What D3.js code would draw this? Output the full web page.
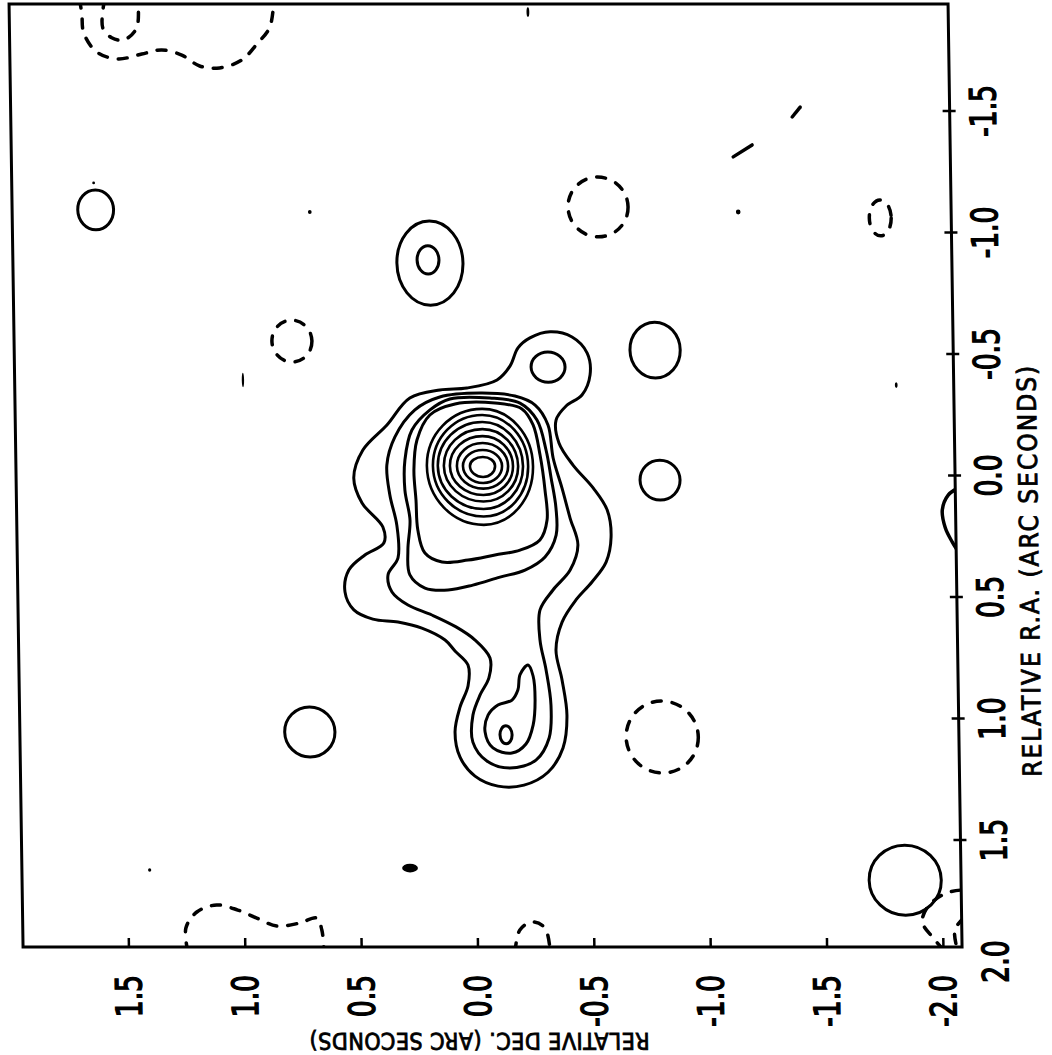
<!DOCTYPE html>
<html><head><meta charset="utf-8">
<script src="https://cdn.jsdelivr.net/npm/d3@7"></script>
<style>body{margin:0;background:#fff}svg{display:block}</style>
</head><body>
<svg id="c" width="1052" height="1055"></svg>
<script>
// ---- axis data ----
const raTicks = [-1.5,-1.0,-0.5,0.0,0.5,1.0,1.5,2.0];
const raTickLabels = ["-1.5","-1.0","-0.5","0.0","0.5","1.0","1.5","2.0"];
const decTicks = [1.5,1.0,0.5,0.0,-0.5,-1.0,-1.5,-2.0];
const decTickLabels = ["1.5","1.0","0.5","0.0","-0.5","-1.0","-1.5","-2.0"];
const raTitle = "RELATIVE R.A.  (ARC SECONDS)";
const decTitle = "RELATIVE DEC.  (ARC SECONDS)";
const decRange = [1.955,-2.08];
const raRange = [-1.94,1.94];

// ---- contour data: [dec, ra] in arcsec ----
const coreLevel1 = [[-0.262,-0.566],[-0.349,-0.591],[-0.443,-0.570],[-0.507,-0.504],[-0.518,-0.414],[-0.482,-0.331],[-0.413,-0.286],[-0.369,-0.228],[-0.380,-0.134],[-0.439,-0.043],[-0.524,0.051],[-0.583,0.142],[-0.598,0.253],[-0.575,0.356],[-0.513,0.438],[-0.443,0.512],[-0.382,0.603],[-0.354,0.718],[-0.378,0.840],[-0.397,0.986],[-0.378,1.121],[-0.312,1.221],[-0.208,1.274],[-0.096,1.278],[0.002,1.237],[0.065,1.159],[0.085,1.055],[0.062,0.953],[0.026,0.865],[0.025,0.780],[0.080,0.722],[0.122,0.677],[0.221,0.628],[0.323,0.603],[0.431,0.591],[0.512,0.553],[0.549,0.479],[0.531,0.389],[0.461,0.327],[0.379,0.278],[0.382,0.212],[0.470,0.113],[0.504,0.010],[0.463,-0.105],[0.358,-0.208],[0.258,-0.319],[0.128,-0.352],[0.012,-0.360],[-0.118,-0.393],[-0.175,-0.451],[-0.210,-0.525]];
const coreLevel2 = [[0.129,-0.323],[-0.044,-0.339],[-0.194,-0.327],[-0.280,-0.290],[-0.334,-0.208],[-0.354,-0.072],[-0.390,0.051],[-0.423,0.175],[-0.455,0.286],[-0.420,0.389],[-0.345,0.471],[-0.288,0.553],[-0.286,0.677],[-0.310,0.799],[-0.329,0.944],[-0.319,1.080],[-0.261,1.171],[-0.149,1.204],[-0.050,1.175],[0.009,1.097],[0.007,0.986],[-0.025,0.903],[-0.064,0.833],[-0.070,0.751],[-0.007,0.677],[0.074,0.623],[0.177,0.574],[0.279,0.533],[0.347,0.479],[0.363,0.409],[0.319,0.339],[0.322,0.204],[0.350,0.080],[0.361,-0.043],[0.325,-0.158],[0.237,-0.270]];
const coreLevel3 = [[0.086,-0.315],[-0.086,-0.319],[-0.215,-0.298],[-0.287,-0.228],[-0.324,-0.105],[-0.344,0.010],[-0.363,0.134],[-0.362,0.245],[-0.313,0.335],[-0.226,0.389],[-0.118,0.418],[-0.001,0.451],[0.106,0.471],[0.205,0.463],[0.269,0.409],[0.276,0.307],[0.265,0.183],[0.285,0.060],[0.283,-0.064],[0.251,-0.187],[0.172,-0.270]];
const coreLevel4 = [[0.064,-0.294],[-0.108,-0.298],[-0.223,-0.274],[-0.270,-0.208],[-0.298,-0.084],[-0.317,0.060],[-0.324,0.183],[-0.292,0.265],[-0.206,0.307],[-0.098,0.327],[0.018,0.348],[0.130,0.356],[0.203,0.319],[0.232,0.224],[0.238,0.101],[0.245,-0.023],[0.230,-0.146],[0.173,-0.249]];
const tailLevel3 = [[-0.233,0.780],[-0.254,0.825],[-0.261,0.924],[-0.251,1.027],[-0.219,1.105],[-0.158,1.142],[-0.077,1.121],[-0.044,1.055],[-0.058,0.986],[-0.101,0.944],[-0.162,0.924],[-0.188,0.882],[-0.198,0.819]];
// inner core rings: [dec centre, ra centre, extent toward +dec, toward -dec, toward -ra, toward +ra]
const coreRings = [
  [-0.052,-0.039,0.056,0.052,0.037,0.045],
  [-0.052,-0.039,0.086,0.082,0.066,0.070],
  [-0.052,-0.039,0.112,0.108,0.095,0.093],
  [-0.052,-0.039,0.142,0.129,0.123,0.119],
  [-0.052,-0.039,0.168,0.151,0.152,0.146],
  [-0.052,-0.039,0.194,0.172,0.181,0.177],
  [-0.052,-0.039,0.215,0.194,0.210,0.208],
  [-0.052,-0.039,0.241,0.215,0.235,0.242]
];
// isolated positive islands: [dec, ra, dec half-width, ra half-height]
const solidIslands = [[1.596,-1.093,0.077,0.082],[0.163,-0.874,0.142,0.173],[0.171,-0.887,0.047,0.058],[-0.338,-0.446,0.073,0.062],[-0.799,-0.516,0.108,0.115],[-0.812,0.019,0.086,0.082],[0.709,1.055,0.108,0.103],[-1.840,1.665,0.155,0.144],[-0.134,1.067,0.026,0.037]];
// negative (dashed) islands
const dashedIslands = [[-0.563,-1.105,0.129,0.123],[0.761,-0.553,0.086,0.086],[-0.805,1.076,0.155,0.148],[-1.775,-1.060,0.047,0.074]];
// open contours cut by the frame
const solidOpen = [
  [[-2.093,0.051],[-2.050,0.080],[-2.023,0.142],[-2.035,0.216],[-2.064,0.274],[-2.098,0.327]],
  [[-1.147,-1.311],[-1.229,-1.360]],
  [[-1.403,-1.475],[-1.438,-1.516]]
];
const dashedOpen = [
  [[1.652,-1.960],[1.643,-1.899],[1.636,-1.821],[1.582,-1.743],[1.492,-1.714],[1.388,-1.734],[1.302,-1.751],[1.216,-1.730],[1.140,-1.685],[1.054,-1.677],[0.958,-1.710],[0.893,-1.775],[0.836,-1.845],[0.817,-1.960]],
  [[1.544,-1.960],[1.554,-1.842],[1.516,-1.801],[1.465,-1.792],[1.408,-1.842],[1.402,-1.960]],
  [[1.247,1.960],[1.254,1.862],[1.206,1.796],[1.120,1.767],[1.030,1.788],[0.949,1.821],[0.863,1.854],[0.764,1.841],[0.691,1.821],[0.670,1.870],[0.662,1.960]],
  [[-0.159,1.960],[-0.181,1.870],[-0.234,1.837],[-0.289,1.862],[-0.310,1.960]],
  [[-2.076,1.706],[-2.016,1.718],[-1.938,1.771],[-1.911,1.837],[-1.957,1.903],[-2.008,1.960]],
  [[-2.090,1.820],[-2.050,1.870],[-2.062,1.960]]
];
// specks: [dec, ra, dec half-width, ra half-height]
const specks = [[0.287,1.615,0.034,0.018],[0.676,-1.084,0.008,0.008],[-1.165,-1.084,0.010,0.010],[1.603,-1.204,0.006,0.006],[1.406,1.623,0.007,0.007],[-1.833,-0.372,0.006,0.012],[0.974,-0.393,0.005,0.030],[-0.274,-1.907,0.006,0.020]];

// ---- drawing ----
const svg = d3.select("#c");
svg.append("rect").attr("width",1052).attr("height",1055).attr("fill","#fff");
const g = svg.append("g").attr("transform","skewX(0.85)");
const x = d3.scaleLinear().domain(decRange).range([9,948]);
const y = d3.scaleLinear().domain(raRange).range([4,947]);

const x0 = x(decRange[0]), x1 = x(decRange[1]), y0 = y(raRange[0]), y1 = y(raRange[1]);
g.append("clipPath").attr("id","frame").append("rect")
  .attr("x",x0).attr("y",y0).attr("width",x1-x0).attr("height",y1-y0);
const plot = g.append("g").attr("clip-path","url(#frame)");

const closed = d3.line().x(d=>x(d[0])).y(d=>y(d[1])).curve(d3.curveCatmullRomClosed.alpha(0.5));
const open = d3.line().x(d=>x(d[0])).y(d=>y(d[1])).curve(d3.curveCatmullRom.alpha(0.5));

const solidStyle = s => s.attr("fill","none").attr("stroke","#000").attr("stroke-width",3).attr("stroke-linejoin","round").attr("stroke-linecap","round");
const dashStyle = s => s.attr("fill","none").attr("stroke","#000").attr("stroke-width",3.5)
   .attr("stroke-dasharray","9,11").attr("stroke-linecap","round");

plot.selectAll(".core").data([coreLevel1,coreLevel2,coreLevel3,coreLevel4,tailLevel3]).join("path")
  .attr("d",closed).call(solidStyle);

// rings built from four quarter-ellipse arcs
const ringPath = d => {
  const cx = x(d[0]), cy = y(d[1]);
  const L = x(d[0]+d[2]), R = x(d[0]-d[3]), T = y(d[1]-d[4]), B = y(d[1]+d[5]);
  const rr = R-cx, rl = cx-L, rt = cy-T, rb = B-cy;
  return `M${cx},${T}A${rr},${rt} 0 0 1 ${R},${cy}A${rr},${rb} 0 0 1 ${cx},${B}` +
         `A${rl},${rb} 0 0 1 ${L},${cy}A${rl},${rt} 0 0 1 ${cx},${T}Z`;
};
plot.selectAll(".ring").data(coreRings).join("path").attr("class","ring")
  .attr("d",ringPath).call(solidStyle).attr("stroke-width",2.6);

const ell = (sel, data) => sel.data(data).join("ellipse")
  .attr("cx",d=>x(d[0])).attr("cy",d=>y(d[1]))
  .attr("rx",d=>Math.abs(x(d[0]+d[2])-x(d[0]))).attr("ry",d=>Math.abs(y(d[1]+d[3])-y(d[1])));
ell(plot.selectAll(".isl"), solidIslands).attr("class","isl").call(solidStyle);
ell(plot.selectAll(".nisl"), dashedIslands).attr("class","nisl").call(dashStyle);
plot.selectAll(".so").data(solidOpen).join("path").attr("class","so").attr("d",open).call(solidStyle).attr("stroke-width",3.5);
plot.selectAll(".do").data(dashedOpen).join("path").attr("class","do").attr("d",open).call(dashStyle);
ell(plot.selectAll(".sp"), specks).attr("class","sp").attr("fill","#000");

// frame
g.append("rect").attr("x",x0).attr("y",y0).attr("width",x1-x0).attr("height",y1-y0)
  .attr("fill","none").attr("stroke","#000").attr("stroke-width",3);

// ticks
g.selectAll(".bt").data(decTicks).join("line")
  .attr("x1",d=>x(d)).attr("x2",d=>x(d)).attr("y1",y1).attr("y2",y1-9)
  .attr("stroke","#000").attr("stroke-width",2.5);
g.selectAll(".rt").data(raTicks.filter(d=>y(d)<=y1)).join("line")
  .attr("x1",x1-7).attr("x2",x1+6).attr("y1",d=>y(d)).attr("y2",d=>y(d))
  .attr("stroke","#000").attr("stroke-width",2.5);

const font = "'DejaVu Sans Condensed','DejaVu Sans',sans-serif";
// right tick labels (rotated, reading upward)
g.selectAll(".rl").data(raTicks).join("text")
  .attr("transform",(d)=>`translate(${x1+46},${y(d)}) rotate(-90) scale(0.82,1)`)
  .attr("text-anchor","middle").attr("font-family",font).attr("font-size",36)
  .attr("stroke","#000").attr("stroke-width",1.4)
  .text((d,i)=>raTickLabels[i]);
// bottom tick labels
g.selectAll(".bl").data(decTicks).join("text")
  .attr("transform",d=>`translate(${x(d)+12},${y1+28}) rotate(-90) scale(0.82,1)`)
  .attr("text-anchor","end").attr("font-family",font).attr("font-size",36)
  .attr("stroke","#000").attr("stroke-width",1.4)
  .text((d,i)=>decTickLabels[i]);
// titles
g.append("text").attr("transform",`translate(${x1+82},${y(0.39)}) rotate(-90)`)
  .attr("text-anchor","middle").attr("font-family",font).attr("font-size",26)
  .attr("stroke","#000").attr("stroke-width",0.8)
  .attr("letter-spacing",2).text(raTitle);
g.append("text").attr("transform",`translate(${x(0.0)},${y1+86}) rotate(180)`)
  .attr("text-anchor","middle").attr("font-family",font).attr("font-size",23)
  .attr("stroke","#000").attr("stroke-width",0.8)
  .attr("letter-spacing",0.5).text(decTitle);
</script>
</body></html>
